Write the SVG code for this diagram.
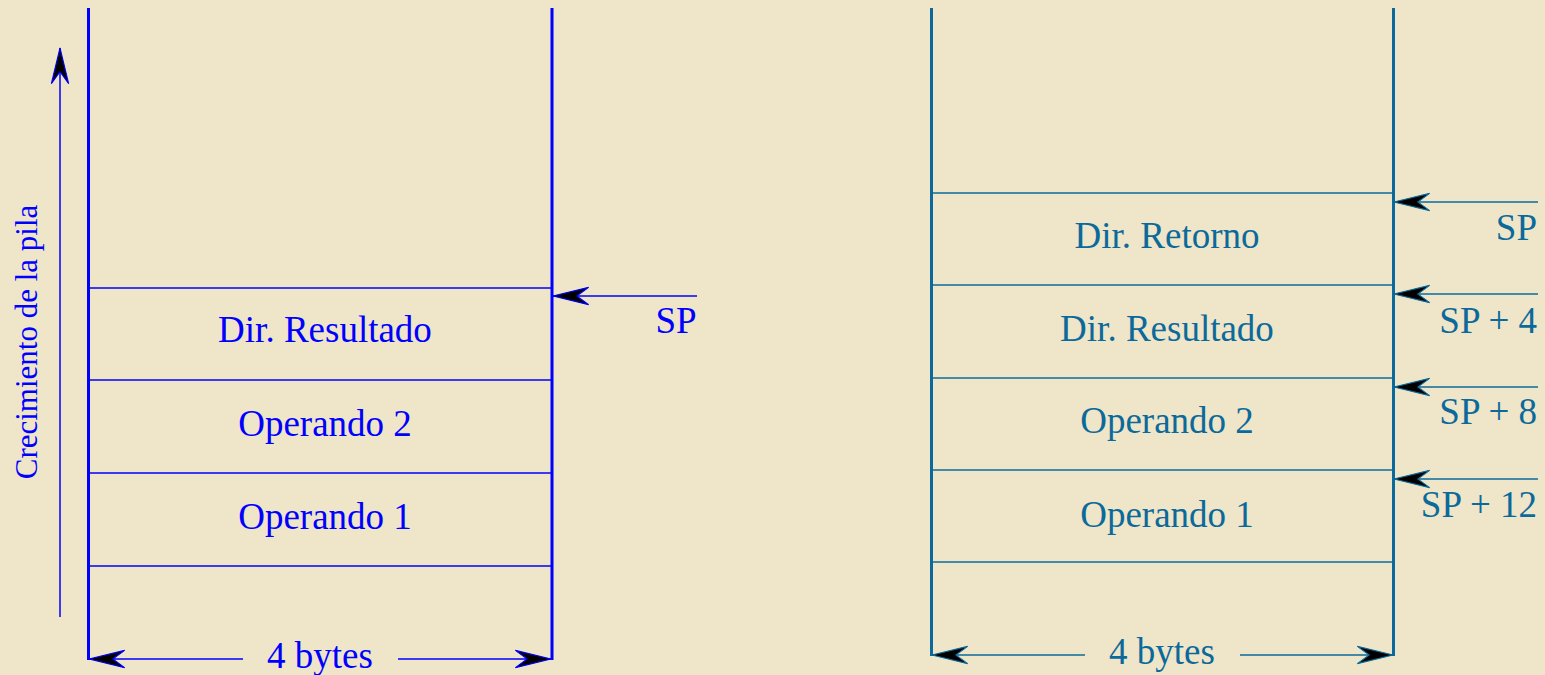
<svg xmlns="http://www.w3.org/2000/svg" width="1545" height="675" viewBox="0 0 1545 675">
  <defs>
    <style>
      .bg { fill: #efe5c8; }
      .blue { stroke: #0000ff; fill: none; }
      .teal { stroke: #0b6a9b; fill: none; }
      .wall { stroke-width: 3; }
      .thin { stroke-width: 1.4; }
      .lbl { font-family: "Liberation Serif", "Times New Roman", serif; font-size: 37px; }
      .side { font-size: 31px; }
      .tb { fill: #0000ff; }
      .tt { fill: #0b6a9b; }
    </style>
    <marker id="ahB" markerUnits="userSpaceOnUse" markerWidth="40" markerHeight="22" viewBox="-35 -10 37 20" refX="0" refY="0" orient="auto-start-reverse">
      <path d="M0,0 L-33,-8 L-22,0 L-33,8 Z" fill="#000" stroke="#0000ff" stroke-width="1"/>
    </marker>
    <marker id="ahT" markerUnits="userSpaceOnUse" markerWidth="40" markerHeight="22" viewBox="-35 -10 37 20" refX="0" refY="0" orient="auto-start-reverse">
      <path d="M0,0 L-33,-8 L-22,0 L-33,8 Z" fill="#000" stroke="#0b6a9b" stroke-width="1"/>
    </marker>
  </defs>

  <rect class="bg" x="0" y="0" width="1545" height="675"/>

  <!-- Left stack: caller frame -->
  <g id="stack-left">
    <line class="blue wall" x1="88.5" y1="8" x2="88.5" y2="660"/>
    <line class="blue wall" x1="552" y1="8" x2="552" y2="660"/>
    <line class="blue thin" x1="88" y1="288" x2="552" y2="288"/>
    <line class="blue thin" x1="88" y1="380" x2="552" y2="380"/>
    <line class="blue thin" x1="88" y1="473" x2="552" y2="473"/>
    <line class="blue thin" x1="88" y1="566" x2="552" y2="566"/>
  </g>
  <g id="slot-left-result"><text class="lbl tb" x="325" y="342" text-anchor="middle">Dir. Resultado</text></g>
  <g id="slot-left-op2"><text class="lbl tb" x="325" y="436" text-anchor="middle">Operando 2</text></g>
  <g id="slot-left-op1"><text class="lbl tb" x="325" y="529" text-anchor="middle">Operando 1</text></g>
  <g id="growth-label"><text class="lbl side tb" transform="translate(37 342) rotate(-90)" text-anchor="middle">Crecimiento de la pila</text></g>
  <g id="sp-left-label"><text class="lbl tb" x="676" y="333" text-anchor="middle">SP</text></g>
  <g id="width-left-label"><text class="lbl tb" x="320" y="668" text-anchor="middle">4 bytes</text></g>

  <!-- Right stack: callee frame -->
  <g id="stack-right">
    <line class="teal wall" x1="931.5" y1="8" x2="931.5" y2="656"/>
    <line class="teal wall" x1="1393.5" y1="8" x2="1393.5" y2="656"/>
    <line class="teal thin" x1="931" y1="193" x2="1393" y2="193"/>
    <line class="teal thin" x1="931" y1="285" x2="1393" y2="285"/>
    <line class="teal thin" x1="931" y1="378" x2="1393" y2="378"/>
    <line class="teal thin" x1="931" y1="470" x2="1393" y2="470"/>
    <line class="teal thin" x1="931" y1="562" x2="1393" y2="562"/>
  </g>
  <g id="slot-right-ret"><text class="lbl tt" x="1167" y="248" text-anchor="middle">Dir. Retorno</text></g>
  <g id="slot-right-result"><text class="lbl tt" x="1167" y="341" text-anchor="middle">Dir. Resultado</text></g>
  <g id="slot-right-op2"><text class="lbl tt" x="1167" y="433" text-anchor="middle">Operando 2</text></g>
  <g id="slot-right-op1"><text class="lbl tt" x="1167" y="527" text-anchor="middle">Operando 1</text></g>
  <g id="sp-right-labels">
    <text class="lbl tt" x="1537" y="240" text-anchor="end">SP</text>
    <text class="lbl tt" x="1537" y="333" text-anchor="end">SP + 4</text>
    <text class="lbl tt" x="1537" y="424" text-anchor="end">SP + 8</text>
    <text class="lbl tt" x="1537" y="517" text-anchor="end">SP + 12</text>
  </g>
  <g id="width-right-label"><text class="lbl tt" x="1162" y="664" text-anchor="middle">4 bytes</text></g>

  <!-- Connectors: pointers and dimension arrows -->
  <g id="connectors">
    <line class="blue" stroke-width="1.5" x1="60" y1="617" x2="60" y2="48" marker-end="url(#ahB)"/>
    <line class="blue" stroke-width="1.5" x1="697" y1="296" x2="553" y2="296" marker-end="url(#ahB)"/>
    <line class="blue" stroke-width="1.5" x1="243" y1="659" x2="89" y2="659" marker-end="url(#ahB)"/>
    <line class="blue" stroke-width="1.5" x1="398" y1="659" x2="551" y2="659" marker-end="url(#ahB)"/>

    <line class="teal" stroke-width="1.5" x1="1538" y1="202" x2="1394" y2="202" marker-end="url(#ahT)"/>
    <line class="teal" stroke-width="1.5" x1="1538" y1="294" x2="1394" y2="294" marker-end="url(#ahT)"/>
    <line class="teal" stroke-width="1.5" x1="1538" y1="387" x2="1394" y2="387" marker-end="url(#ahT)"/>
    <line class="teal" stroke-width="1.5" x1="1538" y1="479" x2="1394" y2="479" marker-end="url(#ahT)"/>
    <line class="teal" stroke-width="1.5" x1="1085" y1="655" x2="932" y2="655" marker-end="url(#ahT)"/>
    <line class="teal" stroke-width="1.5" x1="1240" y1="655" x2="1393" y2="655" marker-end="url(#ahT)"/>
  </g>
</svg>
